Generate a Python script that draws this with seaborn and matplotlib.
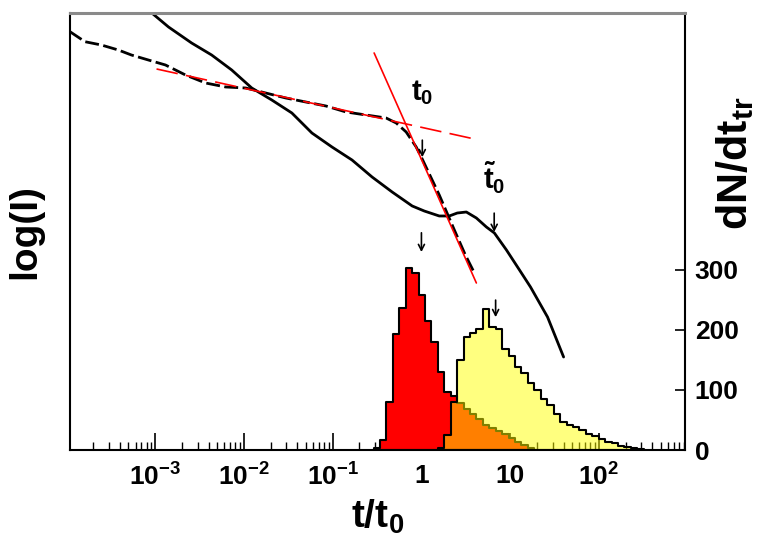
import numpy as np
import pandas as pd
import matplotlib
matplotlib.use("Agg")
import matplotlib.pyplot as plt
import seaborn as sns

# x values are decades, log10(t/t0); log(I) is in arbitrary units (no ticks in original)
dashed_logt = [-3.960, -3.791, -3.607, -3.415, -3.268, -3.076, -2.884, -2.658, -2.432,
               -2.206, -1.980, -1.754, -1.528, -1.302, -1.076, -0.850, -0.624, -0.398,
               -0.284, -0.172, -0.059, -0.002, 0.201, 0.371, 0.495, 0.597]
dashed_logI = [9.572, 9.343, 9.268, 9.153, 9.039, 8.924, 8.810, 8.581, 8.398,
               8.307, 8.284, 8.169, 8.055, 7.963, 7.872, 7.735, 7.666, 7.597,
               7.483, 7.277, 6.934, 6.705, 5.835, 5.034, 4.462, 4.050]

solid_logt = [-3.132, -2.850, -2.590, -2.364, -2.138, -1.912, -1.686, -1.460, -1.234,
              -1.008, -0.782, -0.556, -0.330, -0.104, 0.032, 0.201, 0.314, 0.404,
              0.506, 0.619, 0.732, 0.822, 0.958, 1.105, 1.229, 1.421, 1.602]
solid_logI = [10.160, 9.680, 9.314, 9.039, 8.696, 8.284, 8.009, 7.712, 7.254,
              6.934, 6.636, 6.247, 5.904, 5.584, 5.469, 5.355, 5.355, 5.423,
              5.446, 5.309, 5.103, 4.966, 4.577, 4.119, 3.730, 3.043, 2.128]

# straight-line fits (red)
fit_flat_logt = [-2.985, 0.597]
fit_flat_logI = [8.719, 7.117]
fit_steep_logt = [-0.533, 0.619]
fit_steep_logI = [9.085, 3.822]

# transit time histograms, dN/dt_tr
bin_edges = np.round(-0.54 + 0.0725 * np.arange(43), 4)
red_counts = [4, 17, 80, 193, 236, 303, 295, 258, 215, 180, 130, 97, 90,
              78, 68, 60, 52, 42, 36, 32, 27, 20, 14, 9, 3]            # bins 0..24
yellow_counts = [3, 25, 80, 150, 188, 195, 202, 235, 205, 202, 168, 157,
                 138, 128, 112, 100, 85, 75, 60, 46, 42, 38, 33, 27, 24,
                 18, 14, 11, 7, 5, 4, 2]                                # bins 10..41

# arrows: (logt, logI tail, logI head)
arrow_marks = [(0.01, 7.09, 6.70), (0.82, 5.42, 4.99),
               (0.0, 4.97, 4.53), (0.836, 3.43, 3.04)]

sns.set_theme(style="white")
plt.rcParams["font.family"] = ["Liberation Sans", "DejaVu Sans"]
plt.rcParams["font.weight"] = "bold"
plt.rcParams["text.color"] = "black"
plt.rcParams["axes.labelcolor"] = "black"
plt.rcParams["mathtext.fontset"] = "custom"
plt.rcParams["mathtext.rm"] = "Liberation Sans:bold"
plt.rcParams["mathtext.it"] = "Liberation Sans:bold"
plt.rcParams["mathtext.bf"] = "Liberation Sans:bold"
plt.rcParams["mathtext.default"] = "rm"

fig = plt.figure(figsize=(7.58, 5.37), dpi=100)
ax = fig.add_axes([70 / 758, 87 / 537, 615 / 758, 437 / 537])
axr = ax.twinx()

# intensity curves
sns.lineplot(x=dashed_logt, y=dashed_logI, ax=ax, color="black", lw=2.0,
             linestyle=(0, (5, 1.6)), sort=False)
sns.lineplot(x=solid_logt, y=solid_logI, ax=ax, color="black", lw=2.0, sort=False)
sns.lineplot(x=fit_flat_logt, y=fit_flat_logI, ax=ax, color="red", lw=1.2,
             linestyle=(0, (13, 5)), sort=False)
sns.lineplot(x=fit_steep_logt, y=fit_steep_logI, ax=ax, color="red", lw=1.2, sort=False)

# histograms: yellow is half transparent over red -> orange overlap
red_edges = bin_edges[:len(red_counts) + 1]
yel_edges = bin_edges[10:10 + len(yellow_counts) + 1]
red_df = pd.DataFrame({"logt": (red_edges[:-1] + red_edges[1:]) / 2, "n": red_counts})
yel_df = pd.DataFrame({"logt": (yel_edges[:-1] + yel_edges[1:]) / 2, "n": yellow_counts})
sns.histplot(data=red_df, x="logt", weights="n", bins=list(red_edges),
             element="step", fill=True, facecolor=(1, 0, 0, 1), edgecolor="black",
             linewidth=1.5, ax=axr)
sns.histplot(data=yel_df, x="logt", weights="n", bins=list(yel_edges),
             element="step", fill=True, facecolor=(1, 1, 0, 0.5), edgecolor="black",
             linewidth=1.5, ax=axr)

# labels t0 and t0~ with arrows
ax.text(0.01, 8.17, "t$_0$", fontsize=21, ha="center", va="center", color="black")
ax.text(0.82, 6.22, r"$\tilde{t}_0$", fontsize=21, ha="center", va="center", color="black")
for xa, y0, y1 in arrow_marks:
    ax.annotate("", xy=(xa, y1), xytext=(xa, y0),
                arrowprops=dict(arrowstyle="->,head_length=0.35,head_width=0.18",
                                color="black", lw=1.2, shrinkA=0, shrinkB=0))

# axes, ticks
ax.set_xlim(-3.96, 2.97)
ax.set_ylim(0, 10)
axr.set_ylim(0, 728)

ax.set_xticks([-3, -2, -1, 0, 1, 2])
ax.set_xticklabels(["10$^{-3}$", "10$^{-2}$", "10$^{-1}$", "1", "10", "10$^{2}$"])
minor = [d + np.log10(m) for d in range(-4, 3) for m in range(2, 10)]
ax.set_xticks([v for v in minor if -3.96 < v < 2.97], minor=True)
ax.tick_params(axis="x", which="major", direction="in", length=12.5, width=1.2,
               pad=10, labelsize=19, bottom=True, color="black", labelcolor="black")
ax.tick_params(axis="x", which="minor", direction="in", length=6, width=1.0,
               bottom=True, color="black")
ax.set_yticks([])
ax.tick_params(axis="y", left=False)

axr.set_yticks([0, 100, 200, 300])
axr.tick_params(axis="y", direction="in", length=7, width=1.2, pad=7, labelsize=19,
                right=True, color="black", labelcolor="black")

for s in ax.spines.values():
    s.set_visible(False)
for name, s in axr.spines.items():
    s.set_visible(True)
    s.set_color("black")
    s.set_linewidth(1.5)
axr.spines["top"].set_color("#8a8a8a")
axr.spines["top"].set_linewidth(2.2)

ax.set_xlabel("t/t$_0$", fontsize=28, fontweight="bold", color="black")
ax.xaxis.set_label_coords(0.5, -0.11)
ax.set_ylabel("log(I)", fontsize=28, fontweight="bold", color="black")
ax.yaxis.set_label_coords(-0.044, 0.5)
axr.set_ylabel("dN/dt$_{tr}$", fontsize=31, fontweight="bold", color="black")
axr.yaxis.set_label_coords(1.047, 0.657)

fig.savefig("out.png", dpi=100)
